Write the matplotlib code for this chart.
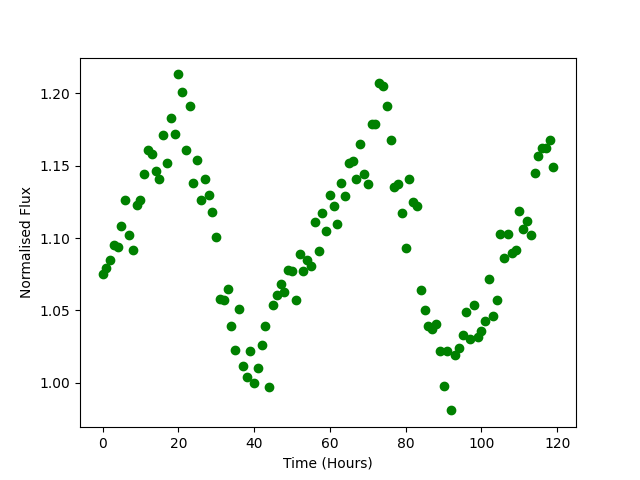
import numpy as np
from matplotlib import pyplot as plt

# one reading per hour
hours = list(range(120))
flux = [
    1.075, 1.079, 1.085, 1.095, 1.094, 1.108, 1.126, 1.102, 1.092, 1.123,
    1.126, 1.144, 1.161, 1.158, 1.146, 1.141, 1.171, 1.152, 1.183, 1.172,
    1.213, 1.201, 1.161, 1.191, 1.138, 1.154, 1.126, 1.141, 1.130, 1.118,
    1.101, 1.058, 1.057, 1.065, 1.039, 1.023, 1.051, 1.012, 1.004, 1.022,
    1.000, 1.010, 1.026, 1.039, 0.997, 1.054, 1.061, 1.068, 1.063, 1.078,
    1.077, 1.057, 1.089, 1.077, 1.085, 1.081, 1.111, 1.091, 1.117, 1.105,
    1.130, 1.122, 1.110, 1.138, 1.129, 1.152, 1.153, 1.141, 1.165, 1.144,
    1.137, 1.179, 1.179, 1.207, 1.205, 1.191, 1.168, 1.135, 1.137, 1.117,
    1.093, 1.141, 1.125, 1.122, 1.064, 1.050, 1.039, 1.037, 1.041, 1.022,
    0.998, 1.022, 0.981, 1.019, 1.024, 1.033, 1.049, 1.030, 1.054, 1.032,
    1.036, 1.043, 1.072, 1.046, 1.057, 1.103, 1.086, 1.103, 1.090, 1.092,
    1.119, 1.106, 1.112, 1.102, 1.145, 1.157, 1.162, 1.162, 1.168, 1.149,
]

plt.figure(figsize=(6.4, 4.8), dpi=100)
plt.plot(hours, flux, "o", color="green")
plt.xlabel("Time (Hours)")
plt.ylabel("Normalised Flux")
plt.savefig("out.png")
